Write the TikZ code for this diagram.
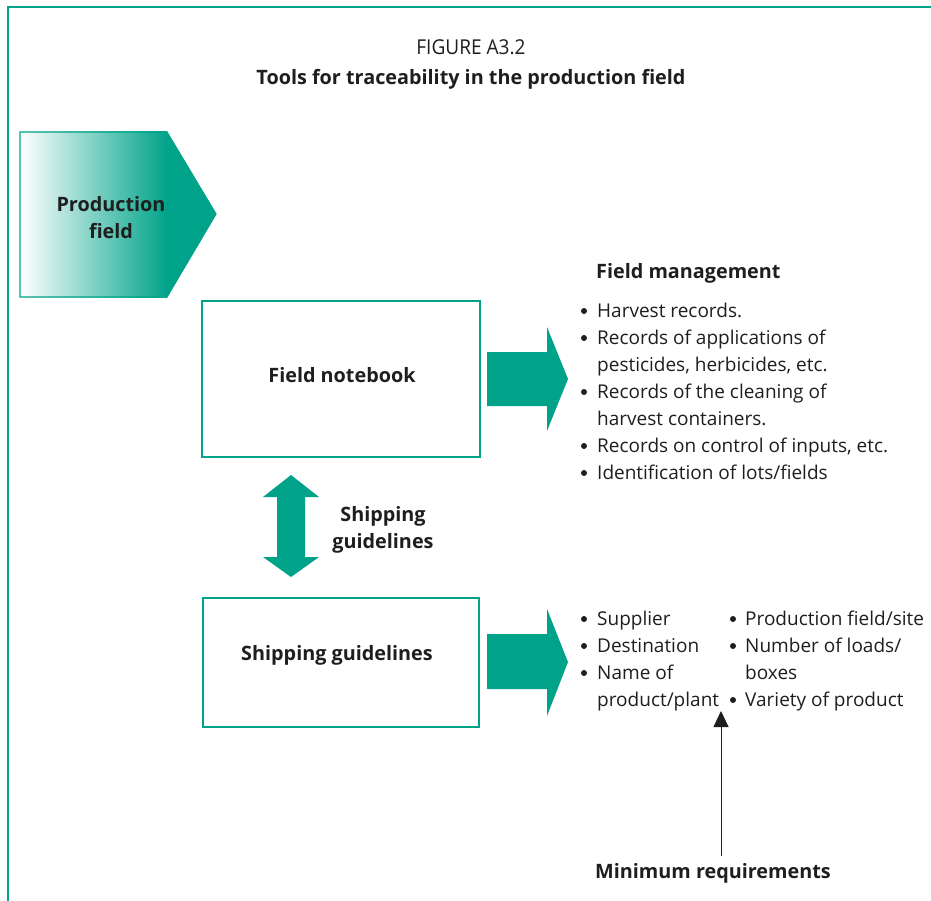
\documentclass[tikz,border=0pt]{standalone}
\usepackage{fontspec}
\setmainfont{Open Sans}
\newfontfamily\condensedfont[FakeStretch=0.93]{Open Sans}
\usetikzlibrary{arrows.meta}
\definecolor{teal}{RGB}{0,163,137}
\definecolor{ink}{RGB}{30,30,30}
\tikzset{
  frame/.style={draw=teal, line width=1.8pt},
  boxline/.style={draw=teal, line width=1.6pt},
  bigarrow/.style={fill=teal, draw=none},
  body/.style={font=\fontsize{19}{27}\selectfont, text=ink, inner sep=0pt, anchor=base west},
  heading/.style={font=\fontsize{19.8}{27}\selectfont\bfseries, text=ink, inner sep=0pt},
  dot/.style={circle, fill=ink, inner sep=0pt, minimum size=6pt},
}
\begin{document}
\begin{tikzpicture}[x=1pt, y=-1pt]
\useasboundingbox (0,0) rectangle (931,901);

% outer frame (open to the right and bottom)
\draw[frame] (931,7) -- (8,7) -- (8,901);

% title
\node[font=\fontsize{20.5}{24}\selectfont\condensedfont, text=ink, anchor=base, inner sep=0pt] (figno) at (471,55) {FIGURE A3.2};
\node[heading, anchor=base] (title) at (471,85) {Tools for traceability in the production field};

% production field pentagon with gradient
\fill[teal] (20,132) -- (167,132) -- (216,214) -- (167,297) -- (20,297) -- cycle;
\begin{scope}
  \clip (20,132) rectangle (167,297);
  \shade[left color=white, right color=teal] (20,132) rectangle (167,297);
\end{scope}
\draw[draw=teal, line width=1.2pt] (20,132) -- (167,132) -- (216,214) -- (167,297) -- (20,297) -- cycle;
\node[heading, align=center, anchor=center] (prod) at (111,218) {Production\\field};

% boxes
\node[boxline, minimum width=278pt, minimum height=156pt, inner sep=0pt] (notebook) at (341,379) {};
\node[heading, anchor=center] (notebooklbl) at (342,375) {Field notebook};
\node[boxline, minimum width=276pt, minimum height=129pt, inner sep=0pt] (shipbox) at (341,662.5) {};
\node[heading, anchor=center] (shiplbl) at (337,655) {Shipping guidelines};

% block arrows to the right
\fill[bigarrow] (487,352) -- (547,352) -- (547,327) -- (568,379) -- (547,431) -- (547,406) -- (487,406) -- cycle;
\fill[bigarrow] (487,634) -- (547,634) -- (547,609) -- (568,662) -- (547,716) -- (547,689) -- (487,689) -- cycle;

% double arrow between boxes
\fill[bigarrow] (291,475) -- (319,497) -- (305,497) -- (305,557) -- (319,557) -- (291,577) -- (263,557) -- (277,557) -- (277,497) -- (263,497) -- cycle;
\node[heading, align=center, anchor=center] (shipmid) at (383,530) {Shipping\\guidelines};

% field management list
\node[heading, anchor=base west] (fm) at (596,278) {Field management};
\node[dot] (b1) at (584,311) {}; \node[body] (l1) at (597,317) {Harvest records.};
\node[dot] (b2) at (584,338) {}; \node[body] (l2) at (597,344) {Records of applications of};
\node[body] (l3) at (597,371) {pesticides, herbicides, etc.};
\node[dot] (b3) at (584,392) {}; \node[body] (l4) at (597,398) {Records of the cleaning of};
\node[body] (l5) at (597,425) {harvest containers.};
\node[dot] (b4) at (584,446) {}; \node[body] (l6) at (597,452) {Records on control of inputs, etc.};
\node[dot] (b5) at (584,473) {}; \node[body] (l7) at (597,479) {Identification of lots/fields};

% shipping data list, two columns
\node[dot] (s1) at (584,619) {}; \node[body] (t1) at (597,625) {Supplier};
\node[dot] (s2) at (584,646) {}; \node[body] (t2) at (597,652) {Destination};
\node[dot] (s3) at (584,673) {}; \node[body] (t3) at (597,679) {Name of};
\node[body] (t4) at (597,706) {product/plant};
\node[dot] (s4) at (733,619) {}; \node[body] (u1) at (745,625) {Production field/site};
\node[dot] (s5) at (733,646) {}; \node[body] (u2) at (745,652) {Number of loads/};
\node[body] (u3) at (745,679) {boxes};
\node[dot] (s6) at (733,700) {}; \node[body] (u4) at (745,706) {Variety of product};

% minimum requirements pointer
\node[heading, anchor=base] (minreq) at (713,878) {Minimum requirements};
\coordinate (mintop) at (721,711);
\coordinate (minbot) at (721,856);
\draw[ink, line width=1pt, -{Triangle[length=16pt, width=15pt]}] (minbot) -- (mintop);
\end{tikzpicture}
\end{document}
